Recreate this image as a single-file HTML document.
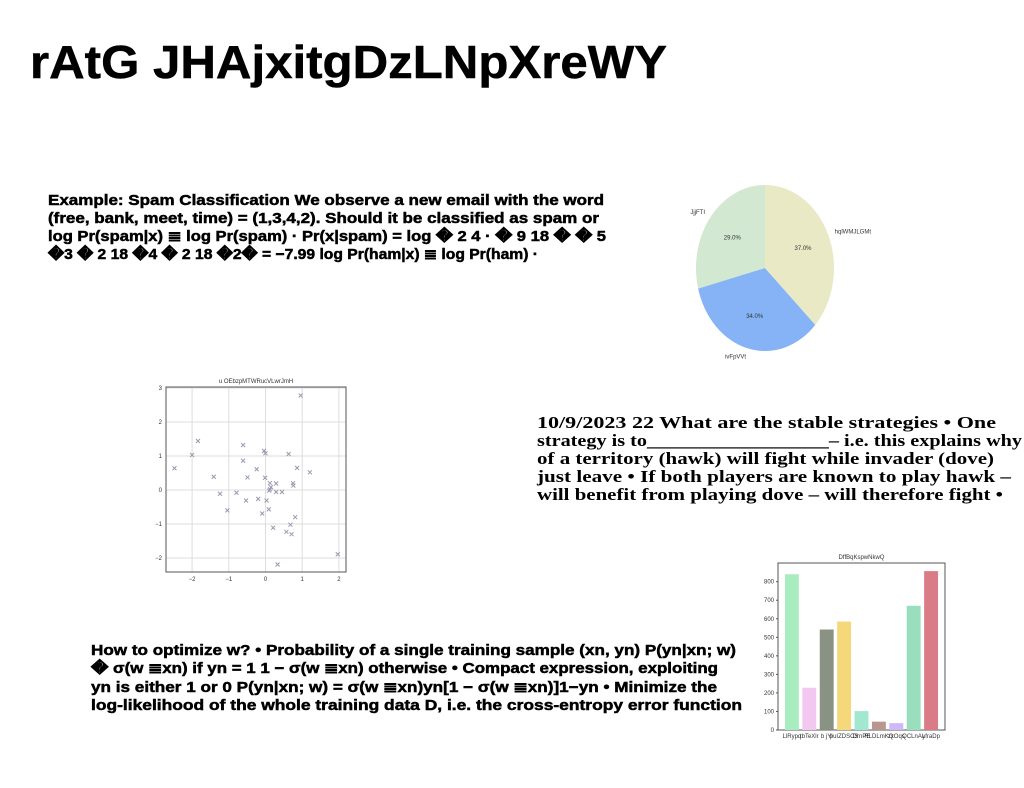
<!DOCTYPE html>
<html><head><meta charset="utf-8"><style>
html,body{margin:0;padding:0;background:#fff;width:1024px;height:788px;overflow:hidden}
svg{display:block}
.h{font-family:"Liberation Sans",sans-serif;font-weight:bold;fill:#000;stroke:#000;stroke-width:0.5}
.s{font-family:"Liberation Serif",serif;font-weight:bold;fill:#000;font-size:16.5px}
.t{font-family:"Liberation Sans",sans-serif;fill:#333;font-size:6px}
</style></head><body>
<svg id="root" width="1024" height="788" viewBox="0 0 1024 788">
<text class="h" x="30" y="78" font-size="46" stroke-width="1" textLength="637" lengthAdjust="spacingAndGlyphs">rAtG JHAjxitgDzLNpXreWY</text>

<g class="h" font-size="15">
<text x="48" y="205" textLength="556" lengthAdjust="spacingAndGlyphs">Example: Spam Classification We observe a new email with the word</text>
<text x="48" y="223" textLength="551" lengthAdjust="spacingAndGlyphs">(free, bank, meet, time) = (1,3,4,2). Should it be classified as spam or</text>
<text x="48" y="241" textLength="558" lengthAdjust="spacingAndGlyphs">log Pr(spam|x) ≣ log Pr(spam) · Pr(x|spam) = log � 2 4 · � 9 18 � � 5</text>
<text x="48" y="259" textLength="490" lengthAdjust="spacingAndGlyphs">�3 � 2 18 �4 � 2 18 �2� = −7.99 log Pr(ham|x) ≣ log Pr(ham) ·</text>
</g>

<g class="s">
<text x="537" y="428" textLength="459" lengthAdjust="spacingAndGlyphs">10/9/2023 22 What are the stable strategies • One</text>
<text x="537" y="446" textLength="485" lengthAdjust="spacingAndGlyphs">strategy is to__________________– i.e. this explains why</text>
<text x="537" y="464" textLength="457" lengthAdjust="spacingAndGlyphs">of a territory (hawk) will fight while invader (dove)</text>
<text x="537" y="482" textLength="474" lengthAdjust="spacingAndGlyphs">just leave • If both players are known to play hawk –</text>
<text x="537" y="500" textLength="466" lengthAdjust="spacingAndGlyphs">will benefit from playing dove – will therefore fight •</text>
</g>

<g class="h" font-size="15">
<text x="91" y="655" textLength="645" lengthAdjust="spacingAndGlyphs">How to optimize w? • Probability of a single training sample (xn, yn) P(yn|xn; w)</text>
<text x="91" y="673" textLength="627" lengthAdjust="spacingAndGlyphs">� σ(w ≣xn) if yn = 1 1 − σ(w ≣xn) otherwise • Compact expression, exploiting</text>
<text x="91" y="692" textLength="626" lengthAdjust="spacingAndGlyphs">yn is either 1 or 0 P(yn|xn; w) = σ(w ≣xn)yn[1 − σ(w ≣xn)]1−yn • Minimize the</text>
<text x="91" y="710" textLength="651" lengthAdjust="spacingAndGlyphs">log-likelihood of the whole training data D, i.e. the cross-entropy error function</text>
</g>

<g id="pie"></g>
<g id="scatter"></g>
<g id="bar"></g>
</svg>
<script>
const NS="http://www.w3.org/2000/svg";
function mk(tag,attrs,parent,text){const e=document.createElementNS(NS,tag);for(const k in attrs)e.setAttribute(k,attrs[k]);if(text!==undefined)e.textContent=text;parent.appendChild(e);return e;}

// ---- PIE ----
const pieLabels=["JjjFTI","ivFpVVt","hqlWMJLGMt"];
const pieValues=[29,34,37];
const pieColors=["#d2e8d0","#85b3f5","#e9e9c5"];
(function(){
const g=document.getElementById('pie');const cx=765,cy=268,rx=69,ry=83;
const tot=pieValues.reduce((a,b)=>a+b,0);let a=90;
pieValues.forEach((v,i)=>{
 const sweep=v/tot*360,a2=a+sweep;
 const p1=[cx+rx*Math.cos(a*Math.PI/180),cy-ry*Math.sin(a*Math.PI/180)];
 const p2=[cx+rx*Math.cos(a2*Math.PI/180),cy-ry*Math.sin(a2*Math.PI/180)];
 const p=mk('path',{d:`M${cx},${cy}L${p1[0]},${p1[1]}A${rx},${ry} 0 ${sweep>180?1:0} 0 ${p2[0]},${p2[1]}Z`,fill:pieColors[i]},g);
 
 
 const m=(a+a2)/2*Math.PI/180;
 const t1=mk('text',{x:cx+rx*0.6*Math.cos(m),y:cy-ry*0.6*Math.sin(m)+2,class:'t','text-anchor':'middle'},g,v.toFixed(1)+'%');
 
 
 const lx=cx+rx*1.1*Math.cos(m),ly=cy-ry*1.1*Math.sin(m);
 const t2=mk('text',{x:lx,y:ly+2,class:'t','text-anchor':Math.cos(m)<0?'end':'start'},g,pieLabels[i]);
 
 
 a=a2;});
})();

// ---- SCATTER ----
const scatterX=[-2.48,-2.0,-1.84,-1.41,-1.24,-1.04,-0.79,-0.61,-0.61,-0.53,-0.49,-0.24,-0.2,-0.09,-0.04,0.0,-0.01,0.03,0.09,0.12,0.12,0.15,0.1,0.21,0.29,0.29,0.33,0.45,0.57,0.63,0.68,0.71,0.75,0.76,0.81,0.86,0.96,1.21,1.97];
const scatterY=[0.64,1.03,1.44,0.39,-0.11,-0.6,-0.08,1.32,0.86,-0.31,0.37,0.61,-0.26,-0.69,1.15,1.08,0.36,-0.31,-0.57,0.2,0.02,0.08,-0.02,-1.11,0.19,-0.06,-2.19,-0.06,-1.23,1.06,-1.02,-1.3,0.2,0.13,-0.8,0.65,2.78,0.52,-1.89];
const scatterXTicks=[-2,-1,0,1,2];
const scatterYTicks=[-2,-1,0,1,2,3];
(function(){
const g=document.getElementById('scatter');
const L=166,R=346,T=387,B=572;
const sx=v=>265.5+v*36.7, sy=v=>490-v*34;
scatterXTicks.forEach(v=>{mk('line',{x1:sx(v),x2:sx(v),y1:T,y2:B,stroke:'#ddd','stroke-width':1},g);
 const t=mk('text',{x:sx(v),y:B+9,class:'t','text-anchor':'middle'},g,v<0?'−'+(-v):v);
 
 });
scatterYTicks.forEach(v=>{mk('line',{x1:L,x2:R,y1:sy(v),y2:sy(v),stroke:'#ddd','stroke-width':1},g);
 const t=mk('text',{x:L-4,y:sy(v)+2,class:'t','text-anchor':'end'},g,v<0?'−'+(-v):v);
 
 });
const fr=mk('rect',{x:L,y:T,width:R-L,height:B-T,fill:'none',stroke:'#555','stroke-width':1},g);


const ti=mk('text',{x:(L+R)/2,y:T-4,class:'t','text-anchor':'middle','font-size':'6.5'},g,'u OEbzpMTWRucVLwrJmH');


scatterX.forEach((xv,i)=>{const x=sx(xv),y=sy(scatterY[i]);
 const p=mk('path',{d:`M${x-2},${y-2}L${x+2},${y+2}M${x-2},${y+2}L${x+2},${y-2}`,stroke:'#9a98b0','stroke-width':1},g);
 
 });
})();

// ---- BAR ----
const barLabels=["LlRypq","tbTeXlr","b jYl","puIZDSCS","DrnPE","RLDLmKQ","zxOqs","QCLnAL","yfraDp"];
const barValues=[840,228,542,585,102,45,37,670,857];
const barColors=["#a8ecc0","#f3c8f0","#8a9283","#f4d87a","#a2e8d0","#b8978e","#cdb8f8","#9adebe","#d97c88"];
const barYTicks=[0,100,200,300,400,500,600,700,800];
(function(){
const g=document.getElementById('bar');
const L=778,R=945,T=563,B=730;
const sy=v=>B-v*0.1854;
const step=(R-L)/(barValues.length+0.6);
const sx=i=>L+step*0.8+i*step;
mk('rect',{x:L,y:T,width:R-L,height:B-T,fill:'none',stroke:'#555','stroke-width':1},g);
barYTicks.forEach(v=>{mk('line',{x1:L-2,x2:L,y1:sy(v),y2:sy(v),stroke:'#555'},g);
 const t=mk('text',{x:L-4,y:sy(v)+2,class:'t','text-anchor':'end','font-size':'5.5'},g,v);
 
 });
barValues.forEach((v,i)=>{const w=step*0.8;
 const r=mk('rect',{x:sx(i)-w/2,y:sy(v),width:w,height:B-sy(v),fill:barColors[i]},g);
 
 
 const t=mk('text',{x:sx(i),y:B+8,class:'t','text-anchor':'middle','font-size':'5.5'},g,barLabels[i]);
 
 });
const ti=mk('text',{x:(L+R)/2,y:T-4,class:'t','text-anchor':'middle','font-size':'6.5'},g,'DffBqKspwNkwQ');


})();
</script>
</body></html>
